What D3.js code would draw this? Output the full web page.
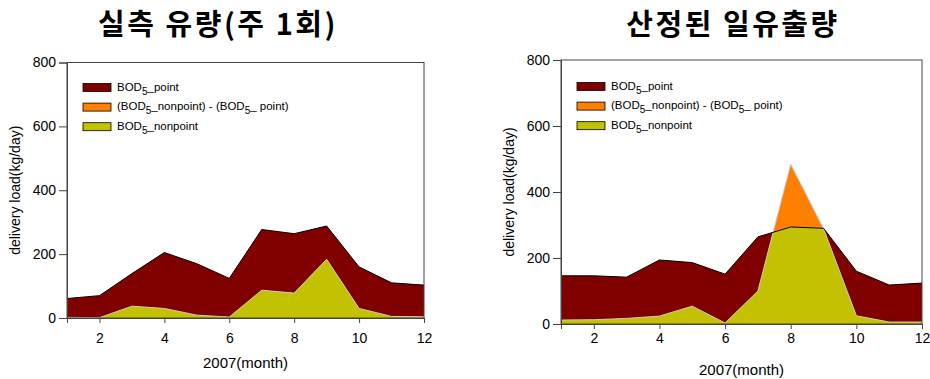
<!DOCTYPE html>
<html>
<head>
<meta charset="utf-8">
<script src="https://cdn.jsdelivr.net/npm/d3@7"></script>
<style>
  html, body { margin: 0; padding: 0; background: #fff; }
  svg { display: block; }
  text { font-family: "Liberation Sans", Arial, sans-serif; fill: #000; }
  .title { font-family: "Noto Sans CJK KR", sans-serif; font-weight: 700; font-size: 29px; letter-spacing: 2.5px; }
</style>
</head>
<body>
<svg id="chart" width="930" height="379"></svg>
<script>
// Monthly BOD5 delivery loads for 2007 (kg/day)
const months = [1, 2, 3, 4, 5, 6, 7, 8, 9, 10, 11, 12];
const xTicks = [2, 4, 6, 8, 10, 12];
const yTicks = [0, 200, 400, 600, 800];

// Measured flow (weekly sampling)
const measuredPoint    = [61, 70, 139, 205, 170, 124, 277, 264, 288, 160, 110, 103];
const measuredNonpoint = [2, 1, 37, 30, 9, 3, 87, 78, 184, 30, 5, 4];

// Estimated daily runoff
const estimatedPoint    = [146, 146, 142, 194, 186, 151, 264, 294, 290, 160, 118, 124];
const estimatedNonpoint = [12, 13, 17, 24, 54, 3, 100, 484, 289, 25, 6, 6];

const titles = ["실측 유량(주 1회)", "산정된 일유출량"];
const yAxisLabel = "delivery load(kg/day)";
const xAxisLabel = "2007(month)";

const colors = { point: "#800000", excess: "#ff8000", nonpoint: "#c2c200" };

const svg = d3.select("#chart");

function drawPanel(id, opt) {
  const g = svg.append("g");
  const x = d3.scaleLinear().domain([1, 12]).range([opt.left, opt.right]);
  const y = d3.scaleLinear().domain([0, 800]).range([opt.bottom, opt.top]);
  const rows = months.map((m, i) => ({ m, p: opt.point[i], n: opt.nonpoint[i] }));

  const areaP = d3.area().x(d => x(d.m)).y0(y(0)).y1(d => y(d.p));
  const areaN = d3.area().x(d => x(d.m)).y0(y(0)).y1(d => y(d.n));
  const lineP = d3.line().x(d => x(d.m)).y(d => y(d.p));
  const lineN = d3.line().x(d => x(d.m)).y(d => y(d.n));

  // clip region = point-source area, used to split nonpoint into below/above point
  g.append("clipPath").attr("id", "clipP" + id)
    .append("path").attr("d", areaP(rows));

  g.append("path").attr("d", areaP(rows)).attr("fill", colors.point);
  g.append("path").attr("d", areaN(rows)).attr("fill", colors.excess);
  g.append("path").attr("d", areaN(rows)).attr("fill", colors.nonpoint)
    .attr("clip-path", `url(#clipP${id})`);
  g.append("path").attr("d", lineN(rows)).attr("fill", "none")
    .attr("stroke", "#c8c8c8").attr("stroke-width", 1);
  g.append("path").attr("d", lineP(rows)).attr("fill", "none")
    .attr("stroke", "#000").attr("stroke-width", 1);

  // frame
  g.append("rect").attr("x", opt.left).attr("y", opt.top)
    .attr("width", opt.right - opt.left).attr("height", opt.bottom - opt.top)
    .attr("fill", "none").attr("stroke", "#444").attr("stroke-width", 1);

  // axes
  const xAxis = g.append("g").attr("transform", `translate(0,${opt.bottom})`)
    .call(d3.axisBottom(x).tickValues(xTicks).tickSize(5).tickPadding(opt.xPad).tickFormat(d3.format("d")));
  const yAxis = g.append("g").attr("transform", `translate(${opt.left},0)`)
    .call(d3.axisLeft(y).tickValues(yTicks).tickSize(8).tickPadding(3).tickFormat(d3.format("d")));
  [xAxis, yAxis].forEach(a => {
    a.select(".domain").attr("stroke", "#444");
    a.selectAll(".tick line").attr("stroke", "#444");
    a.selectAll("text").attr("font-size", 14).attr("font-family", "Liberation Sans, Arial, sans-serif").attr("fill", "#000");
  });

  // titles and axis labels
  svg.append("text").attr("class", "title").attr("x", opt.titleX).attr("y", 35)
    .attr("text-anchor", "middle").text(opt.title);
  svg.append("text").attr("x", (opt.left + opt.right) / 2).attr("y", opt.xLabelY)
    .attr("text-anchor", "middle").attr("font-size", 15).text(xAxisLabel);
  svg.append("text").attr("transform", `translate(${opt.yLabelX},${(opt.top + opt.bottom) / 2}) rotate(-90)`)
    .attr("text-anchor", "middle").attr("font-size", 14).text(yAxisLabel);

  // legend
  const legendItems = [
    { color: colors.point, parts: [["BOD", 0], ["5", 1], ["_point", 0]] },
    { color: colors.excess, parts: [["(BOD", 0], ["5", 1], ["_nonpoint) - (BOD", 0], ["5", 1], ["_ point)", 0]] },
    { color: colors.nonpoint, parts: [["BOD", 0], ["5", 1], ["_nonpoint", 0]] }
  ];
  const lg = g.append("g").attr("transform", `translate(${opt.legendX},${opt.legendY})`);
  legendItems.forEach((it, i) => {
    const row = lg.append("g").attr("transform", `translate(0,${i * 19.6})`);
    row.append("rect").attr("x", 0).attr("y", -4).attr("width", 28).attr("height", 8)
      .attr("fill", it.color).attr("stroke", "#000").attr("stroke-width", 0.8);
    const t = row.append("text").attr("x", 34).attr("y", 3).attr("font-size", 11.5);
    let sub = false;
    it.parts.forEach(([s, isSub]) => {
      const ts = t.append("tspan").text(s);
      if (isSub && !sub) { ts.attr("dy", 4).attr("font-size", 10); sub = true; }
      else if (!isSub && sub) { ts.attr("dy", -4); sub = false; }
    });
  });
}

drawPanel(0, {
  left: 67, right: 424, top: 62.5, bottom: 318,
  point: measuredPoint, nonpoint: measuredNonpoint,
  title: titles[0], titleX: 218, xLabelY: 368, yLabelX: 20, xPad: 10,
  legendX: 83, legendY: 87.5
});
drawPanel(1, {
  left: 561, right: 922, top: 60, bottom: 324,
  point: estimatedPoint, nonpoint: estimatedNonpoint,
  title: titles[1], titleX: 733, xLabelY: 375, yLabelX: 514, xPad: 4,
  legendX: 577, legendY: 86.5
});
</script>
</body>
</html>
